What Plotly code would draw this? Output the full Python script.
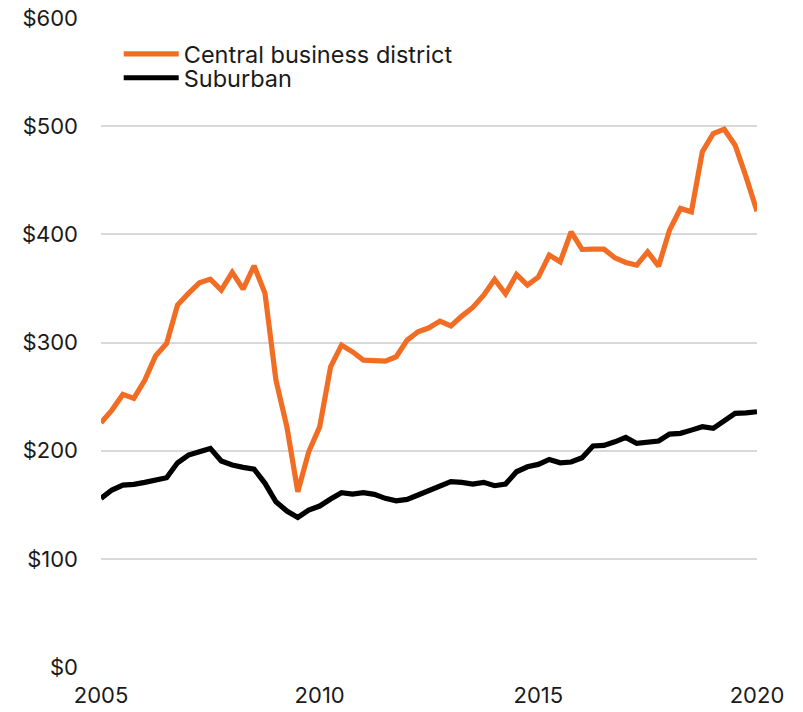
import plotly.graph_objects as go

# Quarterly, 2005 Q1 - 2020 Q1
quarters = [2005 + i * 0.25 for i in range(61)]

cbd = [225.8, 237.5, 252.0, 248.3, 265.0, 287.7, 299.0, 334.6, 345.4, 355.2,
       358.6, 348.4, 364.8, 349.4, 370.9, 345.4, 265.2, 222.0, 162.0, 199.0,
       222.0, 277.5, 297.6, 291.4, 283.7, 282.8, 282.8, 286.8, 302.2, 309.9,
       313.6, 319.8, 315.4, 324.4, 332.4, 343.8, 358.3, 345.0, 362.9, 353.0,
       360.5, 380.8, 374.6, 402.3, 386.0, 386.3, 386.3, 378.3, 374.0, 371.5,
       383.8, 370.6, 403.9, 423.9, 420.8, 476.3, 493.2, 497.2, 482.4, 453.1,
       421.4]

suburban = [155.9, 163.6, 168.2, 168.8, 170.7, 172.8, 175.0, 188.8, 195.9, 199.0,
            202.1, 190.4, 186.7, 184.6, 183.0, 169.8, 152.8, 144.2, 138.3, 145.1,
            148.8, 155.3, 161.1, 159.9, 161.1, 159.6, 155.9, 153.7, 155.0, 159.0,
            162.7, 166.6, 171.3, 170.7, 169.1, 170.7, 167.6, 169.1, 180.5, 185.1,
            187.3, 191.9, 188.8, 189.5, 193.5, 204.3, 204.9, 208.2, 212.3, 206.7,
            207.3, 208.9, 215.3, 216.0, 219.0, 222.1, 220.6, 228.3, 234.5, 235.0,
            236.0]

x_ticks = [2005, 2010, 2015, 2020]
y_ticks = [0, 100, 200, 300, 400, 500, 600]
y_labels = ["$" + str(v) for v in y_ticks]

FONT = "Inter, Liberation Sans, Arial, sans-serif"
TEXT = "#1a1a1a"

fig = go.Figure()
fig.add_trace(go.Scatter(x=quarters, y=cbd, mode="lines", name="Central business district",
                         line=dict(color="#F26D24", width=5.2), legend="legend"))
fig.add_trace(go.Scatter(x=quarters, y=suburban, mode="lines", name="Suburban",
                         line=dict(color="#000000", width=5.2), legend="legend2"))

leg_common = dict(xanchor="left", yanchor="middle", bgcolor="rgba(0,0,0,0)",
                  font=dict(family=FONT, size=23.5, color=TEXT), itemwidth=55,
                  borderwidth=0)

fig.update_layout(
    width=803, height=712,
    margin=dict(l=101, r=46, t=18, b=45, autoexpand=False),
    paper_bgcolor="white", plot_bgcolor="white",
    font=dict(family=FONT, size=22, color=TEXT),
    showlegend=True,
    legend=dict(x=0.027, y=0.9445, **leg_common),
    legend2=dict(x=0.027, y=0.9076, **leg_common),
    xaxis=dict(range=[2005, 2020], tickvals=x_ticks, ticktext=[str(v) for v in x_ticks],
               showgrid=False, zeroline=False, showline=False, ticks="",
               ticklabelstandoff=13, automargin=False, tickfont=dict(size=22)),
    yaxis=dict(range=[0, 600], tickvals=y_ticks, ticktext=y_labels,
               showgrid=True, gridcolor="#d9d9d9", gridwidth=1.5,
               zeroline=False, showline=False, ticks="", automargin=False,
               ticklabelstandoff=22, tickfont=dict(size=22)),
)

fig.write_html("out.html", config={"displayModeBar": False},
               post_script="document.body.style.margin='0';")
